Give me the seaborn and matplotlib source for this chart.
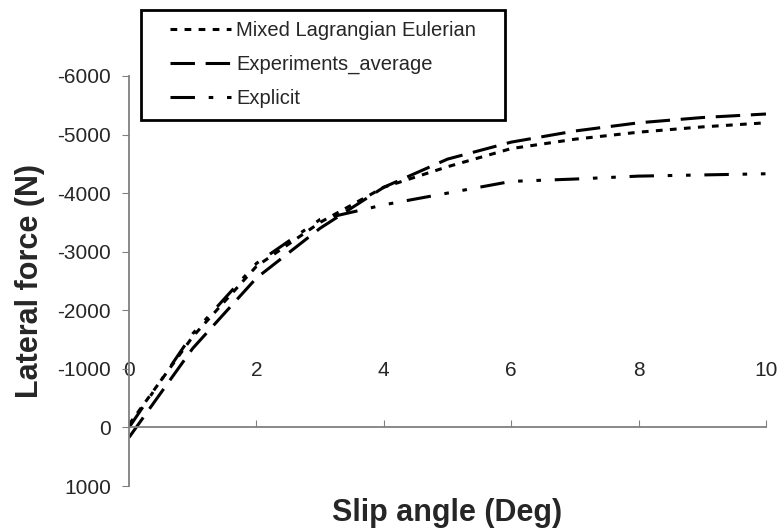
import pandas as pd
import seaborn as sns
import matplotlib.pyplot as plt
from matplotlib.patches import Rectangle

# slip angle (deg) and lateral force (N)
slip = [0, 1, 2, 3, 4, 5, 6, 7, 8, 9, 10]
mixed = [-50, -1550, -2750, -3500, -4100, -4450, -4760, -4920, -5040, -5130, -5200]
experiments = [170, -1350, -2550, -3400, -4100, -4580, -4870, -5060, -5200, -5290, -5350]
explicit_x = [0, 1, 2, 3, 4, 5, 6, 7, 8, 9, 10]
explicit = [0, -1600, -2800, -3550, -3800, -4000, -4200, -4240, -4290, -4310, -4330]

names = ["Mixed Lagrangian Eulerian", "Experiments_average", "Explicit"]

df = pd.concat([
    pd.DataFrame({"x": slip, "y": mixed, "series": names[0]}),
    pd.DataFrame({"x": slip, "y": experiments, "series": names[1]}),
    pd.DataFrame({"x": explicit_x, "y": explicit, "series": names[2]}),
])

sns.set_style("ticks")
plt.rcParams["font.family"] = ["Liberation Sans", "DejaVu Sans"]
plt.rcParams["axes.unicode_minus"] = False

fig = plt.figure(figsize=(7.82, 5.31), dpi=100)
ax = fig.add_axes([0.165, 0.0847, 0.8145, 0.7723])

dashes = {
    names[0]: (2.2, 2.4),
    names[1]: (8, 3.5),
    names[2]: (8, 4.5, 1.5, 4.5, 1.5, 4.5),
}
sns.lineplot(data=df, x="x", y="y", style="series", dashes=dashes,
             color="black", linewidth=2.2, ax=ax, sort=False)

ax.set_xlim(0, 10)
ax.set_ylim(1000, -6000)
ax.set_xticks([0, 2, 4, 6, 8, 10])
ax.set_yticks(range(-6000, 1001, 1000))

ax.spines["top"].set_visible(False)
ax.spines["right"].set_visible(False)
ax.spines["bottom"].set_position(("data", 0))
for s in ["left", "bottom"]:
    ax.spines[s].set_color("#808080")
    ax.spines[s].set_linewidth(1.3)

ax.tick_params(axis="y", direction="out", length=5, color="#808080", labelsize=15, pad=8)
ax.tick_params(axis="x", direction="in", length=5, color="#808080", labelsize=15, pad=-48)

ax.set_xlabel("")
ax.set_ylabel("")
fig.text(0.572, 0.034, "Slip angle (Deg)", fontsize=22, fontweight="bold",
         ha="center", va="center")
fig.text(0.038, 0.471, "Lateral force (N)", fontsize=22, fontweight="bold",
         ha="center", va="center", rotation=90)

# legend box drawn separately so the entries can sit inside with wide margins
ax.add_patch(Rectangle((0.18, 0.774), 0.466, 0.207, transform=fig.transFigure,
                       facecolor="white", edgecolor="black", linewidth=2,
                       clip_on=False, zorder=4))
handles, labels = ax.get_legend_handles_labels()
leg = ax.legend(handles, labels, loc="upper left",
                bbox_to_anchor=(0.218, 0.961), bbox_transform=fig.transFigure,
                fontsize=14.5, handlelength=3.0, handletextpad=0.25,
                labelspacing=0.75, borderaxespad=0, borderpad=0,
                frameon=False)
leg.set_zorder(6)

fig.savefig("out.png", dpi=100)
